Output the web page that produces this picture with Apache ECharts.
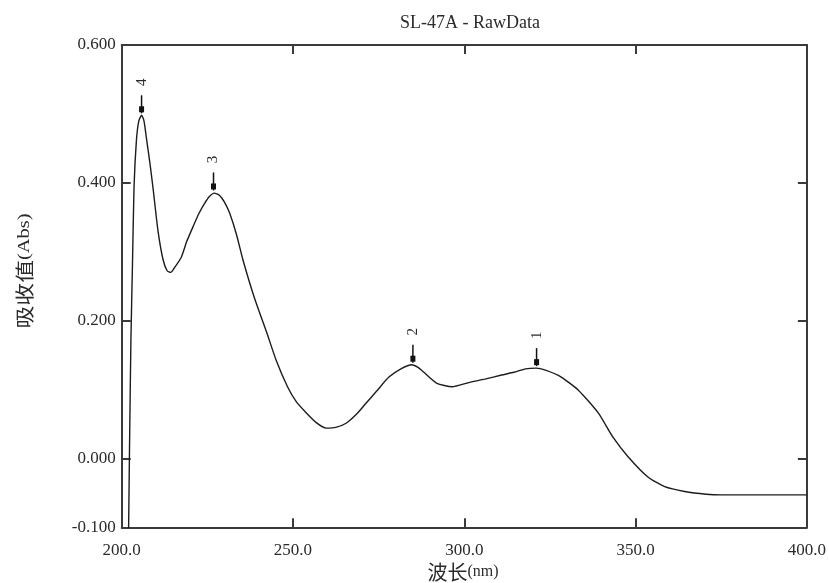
<!DOCTYPE html>
<html>
<head>
<meta charset="utf-8">
<script src="https://cdn.jsdelivr.net/npm/echarts@6/dist/echarts.min.js"></script>
<style>
html,body{margin:0;padding:0;background:#fff;}
#chart{width:829px;height:583px;}
</style>
</head>
<body>
<div id="chart"></div>
<script>
// ---- data ----
const wavelength = [201.8, 202.27, 202.7, 203.15, 203.6, 204.3, 205.0, 205.8, 206.5, 207.3, 208.2, 209.2, 210.6, 212.1, 213.3, 214.3, 215.3, 217.4, 219.0, 220.8, 222.5, 224.2, 225.6, 227.0, 228.5, 230.0, 231.5, 233.5, 235.4, 238.8, 242.3, 245.2, 248.4, 251.0, 253.9, 256.8, 259.7, 262.5, 265.5, 268.5, 271.3, 274.3, 278.0, 281.5, 284.7, 286.5, 288.2, 292.0, 296.4, 301.3, 306.0, 310.9, 314.5, 317.9, 321.0, 323.7, 328.3, 333.3, 339.1, 343.5, 347.8, 353.6, 358.5, 364.3, 370.6, 375.0, 400.0];
const absorbance = [-0.2, 0.01, 0.175, 0.283, 0.394, 0.462, 0.49, 0.498, 0.49, 0.462, 0.43, 0.39, 0.33, 0.288, 0.272, 0.270, 0.276, 0.292, 0.315, 0.336, 0.355, 0.37, 0.38, 0.385, 0.382, 0.372, 0.356, 0.325, 0.288, 0.232, 0.183, 0.141, 0.104, 0.082, 0.066, 0.052, 0.044, 0.045, 0.051, 0.064, 0.080, 0.097, 0.118, 0.130, 0.136, 0.132, 0.125, 0.109, 0.104, 0.110, 0.115, 0.121, 0.125, 0.130, 0.131, 0.128, 0.118, 0.099, 0.066, 0.030, 0.0025, -0.027, -0.041, -0.048, -0.052, -0.053, -0.053];
const peakLabels = ['4', '3', '2', '1'];
const peakWavelength = [205.8, 226.8, 285.0, 321.1];
const peakAbsorbance = [0.498, 0.386, 0.136, 0.131];
const xMin = 200, xMax = 400, xStep = 50;
const yMin = -0.1, yMax = 0.6;
const yLabelValues = [-0.1, 0, 0.2, 0.4, 0.6];
const yTickValues = [0, 0.2, 0.4];
const titleText = 'SL-47A - RawData';
const xNameCJK = '波长', xNameUnit = '(nm)';
const yNameCJK = '吸收值', yNameUnit = '(Abs)';

const chart = echarts.init(document.getElementById('chart'), null, {renderer: 'canvas'});
const serif = '"Liberation Serif", "DejaVu Serif", serif';
const cjk = '"Noto Sans CJK SC", "Noto Sans", sans-serif';
const axisColor = '#3a3a3a';
const textColor = '#2b2b2b';

const lineData = wavelength.map((w, i) => [w, absorbance[i]]);
const peakData = peakWavelength.map((w, i) => [w, peakAbsorbance[i], peakLabels[i]]);

const option = {
  animation: false,
  backgroundColor: '#fff',
  title: {
    text: titleText,
    left: 465, top: 9, textAlign: 'center',
    textStyle: {fontFamily: serif, fontSize: 18, fontWeight: 'normal', color: textColor}
  },
  grid: {left: 121.7, right: 19.7, top: 45, bottom: 55.7, containLabel: false},
  xAxis: [{
    type: 'value', min: xMin, max: xMax, interval: xStep, position: 'bottom',
    axisLine: {show: true, onZero: false, lineStyle: {color: axisColor, width: 2}},
    axisTick: {show: true, inside: true, length: 9, lineStyle: {color: axisColor, width: 2}},
    axisLabel: {show: true, margin: 15, fontFamily: serif, fontSize: 17, color: textColor,
      formatter: v => v.toFixed(1)},
    splitLine: {show: false}
  }, {
    type: 'value', min: xMin, max: xMax, interval: xStep, position: 'top',
    axisLine: {show: true, onZero: false, lineStyle: {color: axisColor, width: 2}},
    axisTick: {show: true, inside: true, length: 9, lineStyle: {color: axisColor, width: 2}},
    axisLabel: {show: false},
    splitLine: {show: false}
  }],
  yAxis: [{
    type: 'value', min: yMin, max: yMax, position: 'left',
    axisLine: {show: true, onZero: false, lineStyle: {color: axisColor, width: 2}},
    axisTick: {show: true, inside: true, length: 9, customValues: yTickValues, lineStyle: {color: axisColor, width: 2}},
    axisLabel: {show: true, margin: 6, fontFamily: serif, fontSize: 17, color: textColor,
      customValues: yLabelValues, formatter: v => v.toFixed(3)},
    splitLine: {show: false}
  }, {
    type: 'value', min: yMin, max: yMax, position: 'right',
    axisLine: {show: true, onZero: false, lineStyle: {color: axisColor, width: 2}},
    axisTick: {show: true, inside: true, length: 9, customValues: yTickValues, lineStyle: {color: axisColor, width: 2}},
    axisLabel: {show: false},
    splitLine: {show: false}
  }],
  graphic: [{
    type: 'text', x: 463, y: 572,
    style: {
      text: '{a|' + xNameCJK + '}{b|' + xNameUnit + '}',
      align: 'center', verticalAlign: 'middle',
      rich: {
        a: {fontFamily: cjk, fontSize: 20, fill: textColor},
        b: {fontFamily: serif, fontSize: 16, fill: textColor}
      }
    }
  }, {
    type: 'text', x: 25, y: 271, rotation: Math.PI / 2, scaleX: 1.2,
    style: {
      text: '{a|' + yNameCJK + '}{b|' + yNameUnit + '}',
      align: 'center', verticalAlign: 'middle',
      rich: {
        a: {fontFamily: cjk, fontSize: 19, fill: textColor},
        b: {fontFamily: serif, fontSize: 17, fill: textColor}
      }
    }
  }],
  series: [{
    type: 'line',
    xAxisIndex: 0, yAxisIndex: 0,
    data: lineData,
    showSymbol: false,
    clip: true,
    smooth: 0.2,
    lineStyle: {color: '#1c1c1c', width: 1.4}
  }, {
    type: 'custom',
    xAxisIndex: 0, yAxisIndex: 0,
    clip: false,
    data: peakData,
    encode: {x: 0, y: 1},
    renderItem: function (params, api) {
      const p = api.coord([api.value(0), api.value(1)]);
      const label = peakLabels[params.dataIndex];
      return {
        type: 'group',
        children: [{
          type: 'line',
          shape: {x1: p[0], y1: p[1] - 20, x2: p[0], y2: p[1] - 2},
          style: {stroke: '#111', lineWidth: 1.5}
        }, {
          type: 'rect',
          shape: {x: p[0] - 2.5, y: p[1] - 9, width: 5, height: 6},
          style: {fill: '#111'}
        }, {
          type: 'text',
          x: p[0], y: p[1] - 33,
          rotation: Math.PI / 2,
          style: {text: label, align: 'center', verticalAlign: 'middle',
            fontFamily: serif, fontSize: 15, fill: textColor}
        }]
      };
    }
  }]
};
chart.setOption(option);
</script>
</body>
</html>
